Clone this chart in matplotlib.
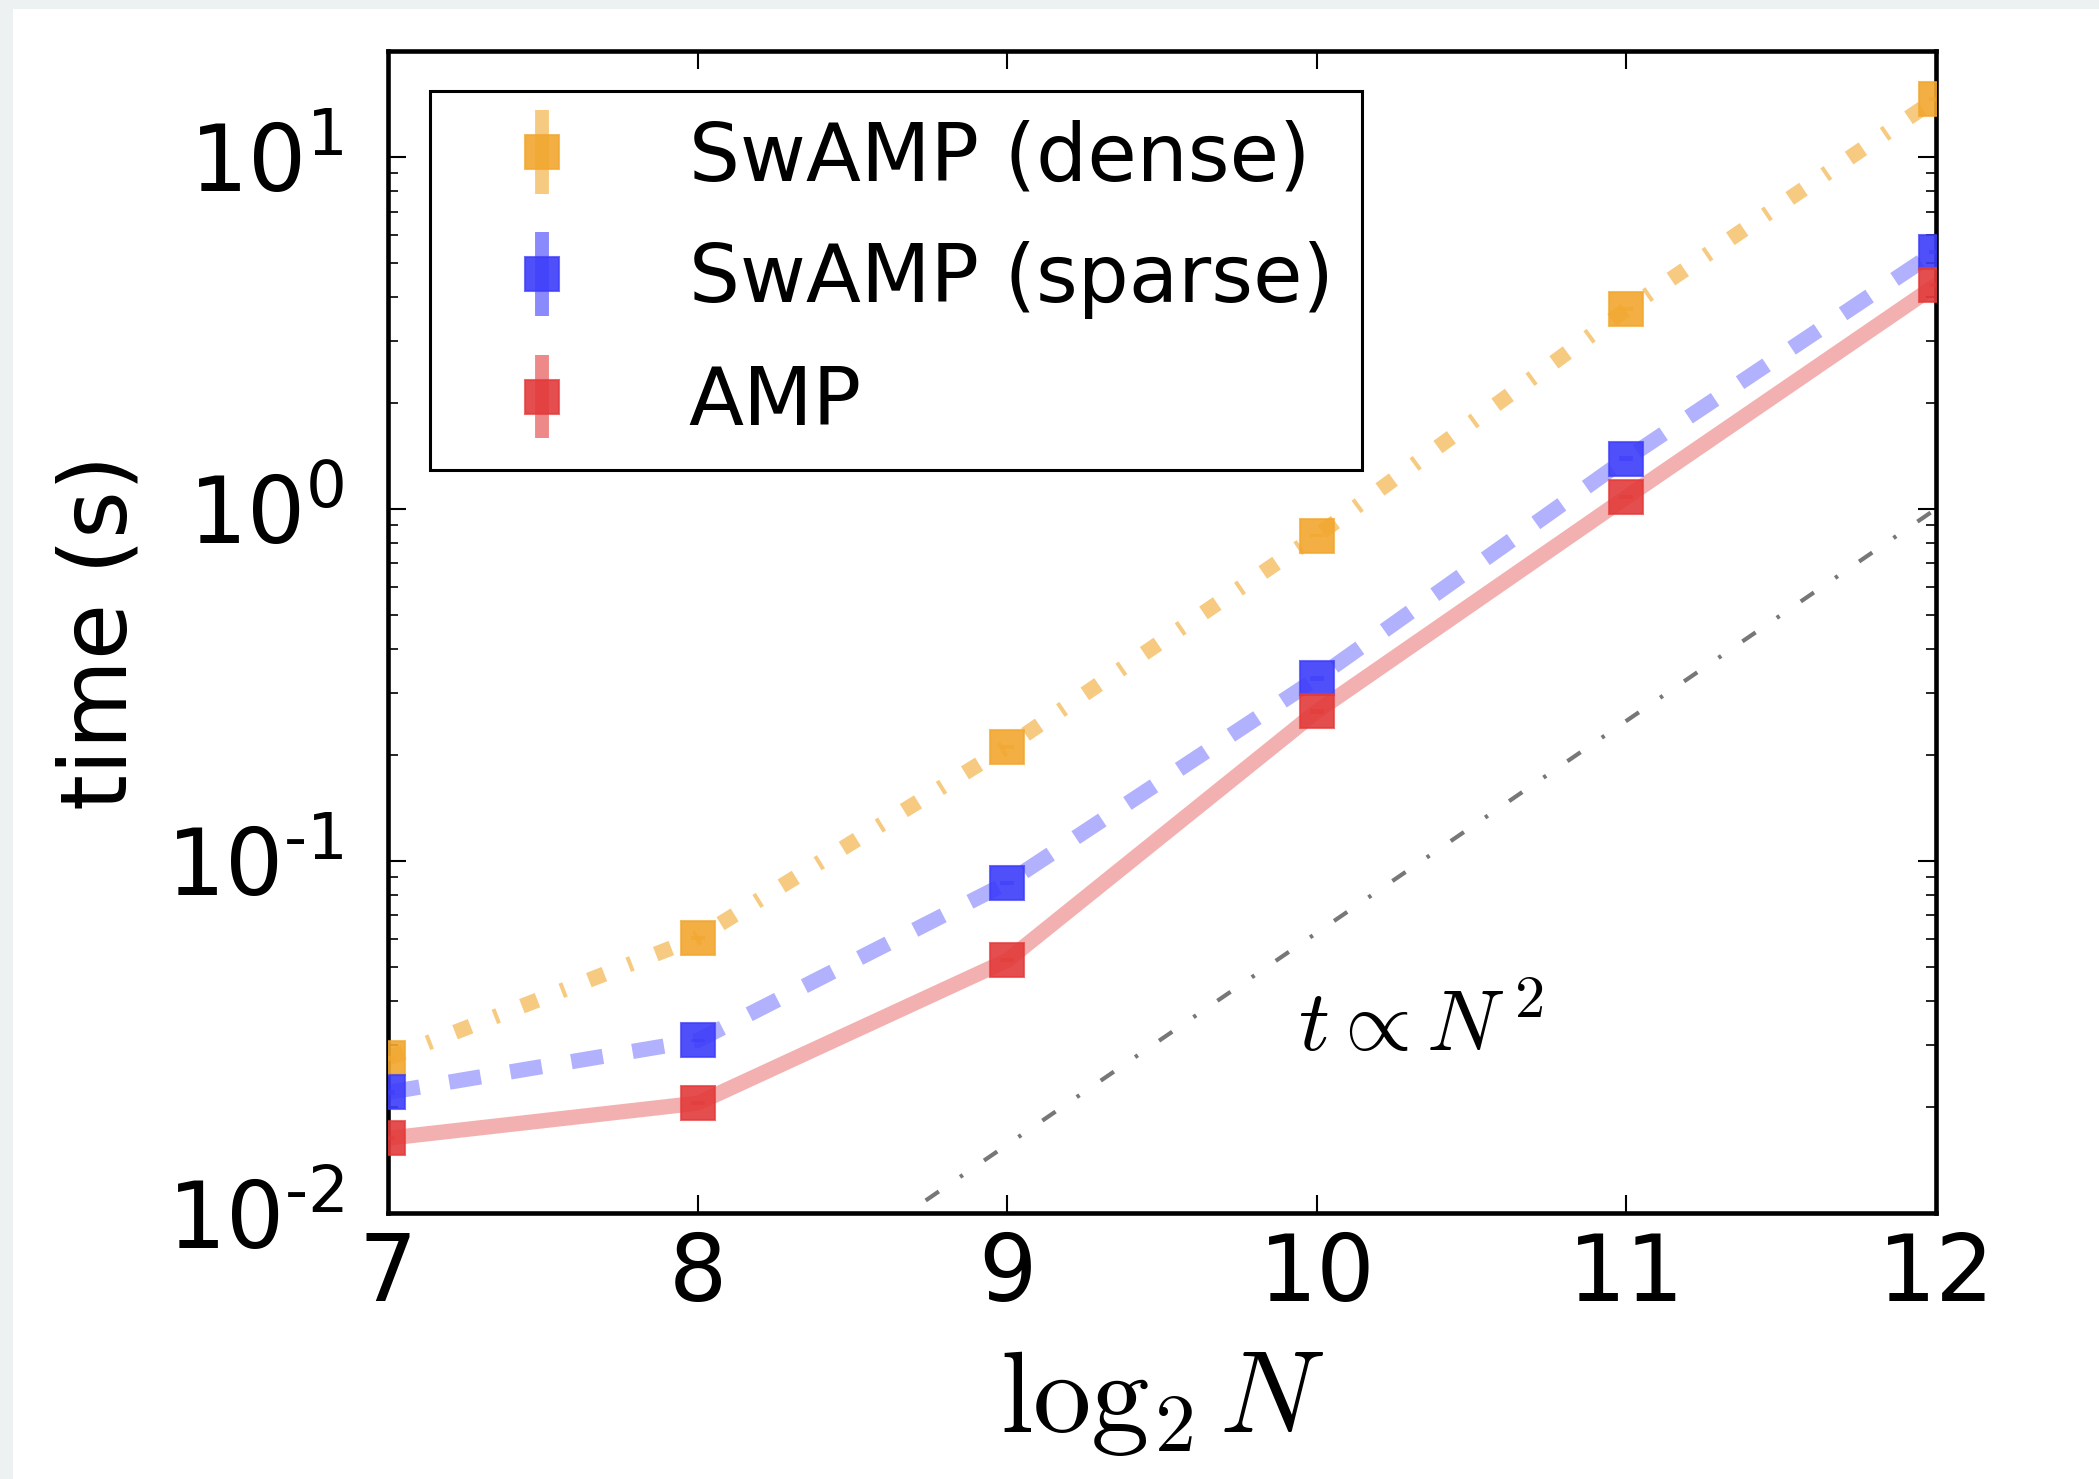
import matplotlib
matplotlib.use('Agg')
import matplotlib.pyplot as plt
from matplotlib.patches import Rectangle
from matplotlib.ticker import LogLocator, NullFormatter
from matplotlib.colors import to_rgba
from matplotlib.legend_handler import HandlerErrorbar
from matplotlib.container import ErrorbarContainer

plt.rcParams['lines.scale_dashes'] = False
plt.rcParams['font.family'] = ['DejaVu Sans']
plt.rcParams['mathtext.fontset'] = 'dejavusans'

# ---------------- data ----------------
log2N = [7, 8, 9, 10, 11, 12]
t_dense = [0.0275, 0.0605, 0.211, 0.84, 3.69, 14.6]
t_sparse = [0.022, 0.0309, 0.0867, 0.33, 1.39, 5.38]
t_amp = [0.0163, 0.0205, 0.0522, 0.266, 1.08, 4.32]
err_dense = [0.0004, 0.0008, 0.003, 0.01, 0.05, 0.2]
err_sparse = [0.0003, 0.0004, 0.0012, 0.005, 0.02, 0.07]
err_amp = [0.0002, 0.0003, 0.0007, 0.004, 0.015, 0.06]
labels = ['SwAMP (dense)', 'SwAMP (sparse)', 'AMP']
xticks = [7, 8, 9, 10, 11, 12]
xtick_labels = ['7', '8', '9', '10', '11', '12']
yticks = [1e-2, 1e-1, 1e0, 1e1]
ytick_labels = [r'$10^{\text{-}2}$', r'$10^{\text{-}1}$', r'$10^{0}$', r'$10^{1}$']
ref_x = [7, 12]
ref_t = [0.000977, 1.0]   # t ∝ N^2 guide
ref_label = r'$t \propto N^{\,2}$'

c_dense = '#f2a72e'
c_sparse = '#3d3dfa'
c_amp = '#e33b3b'

# ---------------- figure ----------------
fig = plt.figure(figsize=(20.99, 14.79), dpi=100)
fig.patch.set_facecolor('#edf1f2')
fig.add_artist(Rectangle((13 / 2099, 0), 1, 1 - 9 / 1479, transform=fig.transFigure,
                         facecolor='white', edgecolor='none', zorder=-10))
ax = fig.add_axes([0.1849, 0.1799, 0.7374, 0.7856])
ax.set_facecolor('white')

# connecting lines
ax.plot(log2N, t_dense, color=c_dense, alpha=0.6, lw=11,
        dashes=(12, 18.4, 2.9, 18.4), zorder=2)
ax.plot(log2N, t_sparse, color=c_sparse, alpha=0.4, lw=11,
        dashes=(23, 21.6), zorder=2)
ax.plot(log2N, t_amp, color=c_amp, alpha=0.4, lw=11, zorder=2)

# reference line
ax.plot(ref_x, ref_t, color='#777777', lw=3.0, dashes=(11.5, 18.5, 2.4, 18.5), zorder=1)
ax.text(9.94, 0.0288, ref_label, fontsize=62, math_fontfamily='cm',
        ha='left', va='baseline')

# markers with error bars
for y, e, c, lab in [(t_dense, err_dense, c_dense, labels[0]),
                     (t_sparse, err_sparse, c_sparse, labels[1]),
                     (t_amp, err_amp, c_amp, labels[2])]:
    ax.errorbar(log2N, y, yerr=e, fmt='s', ms=24.5,
                mfc=to_rgba(c, 0.9), mec=to_rgba(c, 0.75), mew=1.5,
                ecolor=to_rgba(c, 0.6), elinewidth=10, capsize=0,
                label=lab, zorder=3)

ax.set_yscale('log')
ax.set_xlim(7, 12)
ax.set_ylim(1e-2, 20)
ax.set_xticks(xticks)
ax.set_xticklabels(xtick_labels)
ax.set_yticks(yticks)
ax.set_yticklabels(ytick_labels)
ax.yaxis.set_minor_locator(LogLocator(base=10, subs=range(2, 10)))
ax.yaxis.set_minor_formatter(NullFormatter())
ax.tick_params(which='both', direction='in', top=True, right=True, color='black')
ax.tick_params(which='major', length=13, width=1.5)
ax.tick_params(which='minor', length=7, width=1.2)
ax.tick_params(axis='x', labelsize=66, pad=12.5)
ax.tick_params(axis='y', labelsize=66, pad=32)
for s in ax.spines.values():
    s.set_linewidth(3.3)

ax.set_ylabel('time (s)', fontsize=66)
ax.yaxis.set_label_coords(-0.157, 0.5)
ax.set_xlabel(r'$\log_2 N$', fontsize=84, math_fontfamily='cm')
ax.xaxis.set_label_coords(0.5, -0.112)

leg = ax.legend(loc='upper left', bbox_to_anchor=(0.0271, 0.9656), borderaxespad=0,
                fontsize=58, numpoints=1, frameon=True, fancybox=False, framealpha=1,
                edgecolor='black', borderpad=0.35, labelspacing=0.55,
                handlelength=2.08, handletextpad=0.78,
                handler_map={ErrorbarContainer: HandlerErrorbar(xerr_size=0.52)})
leg.get_frame().set_linewidth(2.2)

fig.savefig('out.png', dpi=100, facecolor=fig.get_facecolor())
